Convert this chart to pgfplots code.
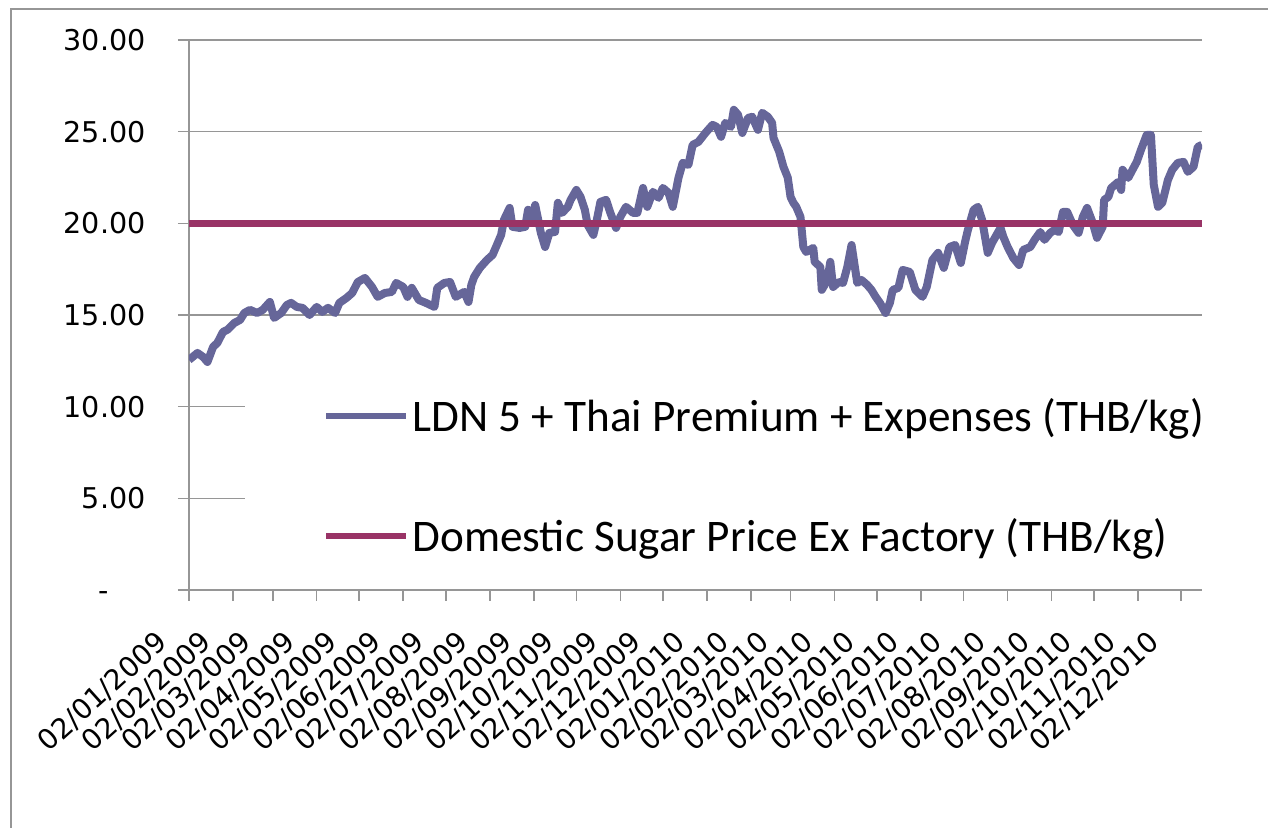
\documentclass[border=0pt]{standalone}
\usepackage{pgfplots}
\pgfplotsset{compat=1.18}
\usepackage{pgfplotstable}
\usepackage{fontspec}
\setmainfont{DejaVu Sans}
\newfontfamily\legfont{Carlito}
\definecolor{ldnblue}{HTML}{666699}
\definecolor{dommaroon}{HTML}{993366}
\definecolor{gridgray}{HTML}{969696}

% day = days since 02/01/2009, value in THB/kg
\pgfplotstableread{
day value
0 12.55
6 12.93
10 12.71
13 12.44
17 13.26
20 13.48
24 14.08
27 14.19
32 14.57
36 14.73
39 15.11
43 15.28
48 15.11
52 15.28
57 15.71
60 14.84
65 15.11
69 15.55
72 15.66
76 15.44
80 15.39
85 15.00
90 15.44
94 15.17
98 15.39
103 15.11
106 15.66
111 15.93
115 16.20
119 16.80
124 17.02
129 16.53
133 15.99
138 16.20
143 16.26
146 16.75
151 16.53
154 15.99
157 16.48
162 15.82
167 15.66
173 15.44
175 16.48
180 16.75
184 16.80
188 15.99
194 16.26
197 15.71
199 16.64
201 17.08
205 17.57
210 18.00
214 18.28
217 18.82
220 19.37
222 20.19
226 20.84
228 19.81
233 19.75
237 19.81
239 20.74
242 20.30
244 21.00
248 19.48
251 18.71
254 19.48
258 19.53
260 21.12
263 20.57
267 20.90
269 21.28
273 21.82
276 21.44
279 20.74
281 19.91
285 19.37
287 20.02
290 21.17
294 21.28
297 20.57
301 19.75
304 20.35
308 20.90
313 20.57
316 20.57
320 21.93
323 20.90
327 21.72
331 21.39
334 21.93
338 21.66
341 20.90
345 22.48
348 23.30
352 23.19
355 24.28
359 24.44
364 24.93
369 25.37
372 25.26
375 24.72
378 25.48
382 25.26
384 26.19
387 25.92
390 24.93
394 25.75
397 25.81
401 25.10
404 26.03
408 25.81
411 25.48
412 24.66
416 23.90
419 23.08
422 22.50
424 21.44
426 21.12
428 20.90
431 20.35
433 18.71
435 18.44
440 18.66
441 17.90
445 17.62
446 16.37
450 16.91
452 17.90
454 16.53
458 16.80
461 16.75
464 17.62
467 18.82
471 16.75
474 16.91
478 16.64
481 16.37
484 15.99
487 15.66
491 15.11
494 15.66
496 16.37
500 16.48
503 17.46
508 17.35
512 16.37
517 15.99
520 16.53
524 18.00
528 18.39
532 17.57
536 18.71
540 18.82
544 17.84
547 18.99
549 19.64
553 20.73
556 20.90
559 20.19
563 18.39
566 18.93
570 19.48
572 19.75
574 19.26
577 18.71
581 18.11
585 17.73
588 18.55
593 18.71
596 19.10
600 19.53
603 19.10
607 19.48
610 19.64
613 19.53
616 20.62
619 20.62
623 19.91
627 19.48
630 20.35
633 20.84
637 20.02
640 19.21
644 19.81
645 21.28
648 21.44
650 21.93
655 22.26
657 21.82
658 22.92
662 22.48
665 22.92
668 23.35
671 24.01
675 24.82
678 24.82
680 22.10
683 20.90
686 21.12
690 22.37
693 22.92
697 23.30
701 23.35
704 22.81
708 23.08
711 24.17
714 24.28
}\ldndata

\pgfplotstableread{
day value
0 20.00
714 20.00
}\domdata

\begin{document}
\begin{tikzpicture}
\begin{axis}[
 at={(0,0)}, anchor=south west, scale only axis,
 width=506.5pt, height=275pt,
 xmin=0, xmax=714, ymin=0, ymax=30,
 axis x line*=bottom, axis y line*=left,
 axis line style={gridgray, line width=0.8pt},
 ytick={0,5,10,15,20,25,30},
 yticklabels={-\phantom{00},5.00,10.00,15.00,20.00,25.00,30.00},
 xtick={0,31,59,90,120,151,181,212,243,273,304,334,365,396,424,455,485,516,546,577,608,638,669,699},
 xticklabels={02/01/2009,02/02/2009,02/03/2009,02/04/2009,02/05/2009,02/06/2009,02/07/2009,02/08/2009,02/09/2009,02/10/2009,02/11/2009,02/12/2009,02/01/2010,02/02/2010,02/03/2010,02/04/2010,02/05/2010,02/06/2010,02/07/2010,02/08/2010,02/09/2010,02/10/2010,02/11/2010,02/12/2010},
 tick align=outside, major tick length=5.5pt,
 tick style={gridgray, line width=0.8pt},
 ymajorgrids, grid style={gridgray, line width=0.8pt},
 xticklabel style={font=\fontsize{14}{16}\selectfont, inner sep=0pt, xshift=-17pt, yshift=-14pt, rotate=42, anchor=north east},
 yticklabel style={font=\fontsize{14.3}{17}\selectfont, inner sep=0pt, xshift=-16pt},
 legend style={at={(rel axis cs:0.0553,0.3855)}, anchor=north west,
   draw=none, fill=white, inner xsep=0pt, inner ysep=10pt, row sep=42pt,
   font=\legfont\fontsize{22.6}{27}\selectfont,
   nodes={inner ysep=0pt, inner xsep=1.5pt}},
 legend cell align=left,
 legend image code/.code={\path (0pt,0pt); \draw[#1, line width=3pt] (38.5pt,0pt) -- (78.5pt,0pt);},
]
\addplot[ldnblue, line width=4pt, line join=round] table[x=day, y=value] {\ldndata};
\addplot[dommaroon, line width=3.4pt] table[x=day, y=value] {\domdata};
\legend{LDN 5 + Thai Premium + Expenses (THB/kg), Domestic Sugar Price Ex Factory (THB/kg)}
\end{axis}
\draw[gridgray, line width=0.8pt] (-89pt,-130pt) -- (-89pt,290.5pt) -- (550pt,290.5pt);
\pgfresetboundingbox
\useasboundingbox (-94.5pt,-119pt) rectangle (539.5pt,295pt);
\end{tikzpicture}
\end{document}
